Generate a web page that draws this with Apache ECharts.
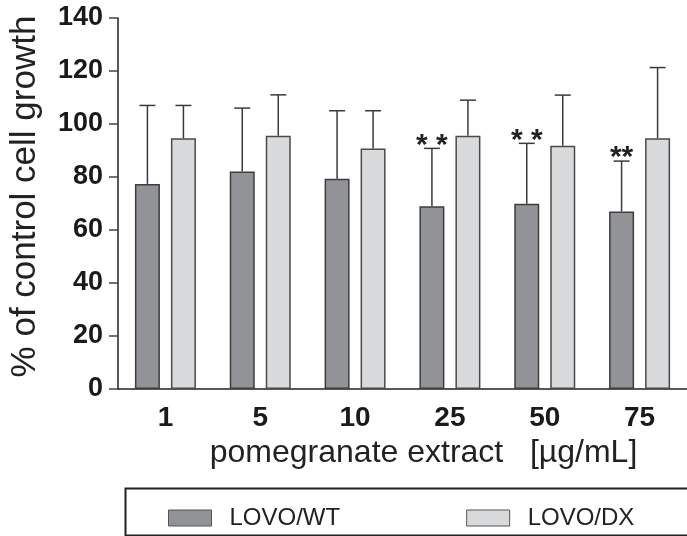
<!DOCTYPE html>
<html>
<head>
<meta charset="utf-8">
<script src="https://cdn.jsdelivr.net/npm/echarts@6/dist/echarts.min.js"></script>
<style>
  html, body { margin: 0; padding: 0; background: #fff; }
  #chart { width: 687px; height: 536px; }
</style>
</head>
<body>
<div id="chart"></div>
<script>
// values
const doses = ["1", "5", "10", "25", "50", "75"];
const wtMean = [77.4, 82.1, 79.3, 69.0, 69.9, 67.0];
const wtErr = [29.6, 23.9, 25.7, 21.8, 22.8, 19.0];
const dxMean = [94.6, 95.6, 90.8, 95.6, 91.8, 94.6];
const dxErr = [12.4, 15.4, 14.2, 13.4, 19.1, 26.7];
const wtStars = ["", "", "", "* *", "* *", "**"];
const yTicks = [0, 20, 40, 60, 80, 100, 120, 140];

const FONT = "Liberation Sans";
const BAR_W = 25;
const OFFSET = 18; // half of bar width + gap

function errorSeries(mean, err, stars, shift) {
  return {
    type: "custom",
    z: 1,
    data: mean.map((m, i) => [i, m, m + err[i], stars ? stars[i] : ""]),
    renderItem: function (params, api) {
      const base = api.coord([api.value(0), api.value(1)]);
      const top = api.coord([api.value(0), api.value(2)]);
      const x = base[0] + shift;
      const children = [
        { type: "line", shape: { x1: x, y1: base[1], x2: x, y2: top[1] },
          style: { stroke: "#3a3a3a", lineWidth: 1.5 } },
        { type: "line", shape: { x1: x - 8, y1: top[1], x2: x + 8, y2: top[1] },
          style: { stroke: "#3a3a3a", lineWidth: 1.5 } }
      ];
      const s = api.value(3);
      if (s) {
        children.push({
          type: "text",
          style: { text: s, x: x, y: top[1] + 12, align: "center", verticalAlign: "bottom",
                   font: "bold 30px '" + FONT + "'", fill: "#222" }
        });
      }
      return { type: "group", children: children };
    }
  };
}

const chart = echarts.init(document.getElementById("chart"));
chart.setOption({
  animation: false,
  textStyle: { fontFamily: FONT },
  grid: { left: 118, top: 18, width: 576, bottom: 147 },
  legend: {
    left: 163, top: 501,
    icon: "rect",
    itemWidth: 43, itemHeight: 16, itemGap: 126,
    itemStyle: { borderWidth: 1, borderColor: "#555" },
    textStyle: { fontSize: 24, color: "#222", fontFamily: FONT, padding: [0, 0, 0, 13] },
    data: ["LOVO/WT", "LOVO/DX"]
  },
  graphic: [{
    type: "rect", left: 123, top: 486,
    shape: { width: 600, height: 47 },
    style: { fill: "none", stroke: "#222", lineWidth: 2 }
  }],
  xAxis: {
    type: "category",
    data: doses,
    name: "pomegranate extract   [\u00b5g/mL]",
    nameLocation: "middle",
    nameGap: 37,
    nameTextStyle: { fontSize: 32, color: "#222", fontFamily: FONT, padding: [0, 0, 0, 42] },
    axisLine: { lineStyle: { color: "#222", width: 1.5 } },
    axisTick: { alignWithLabel: true, length: 8, lineStyle: { color: "#444", width: 1.5 } },
    axisLabel: { fontSize: 28, fontWeight: "bold", color: "#1a1a1a", margin: 15 },
    splitLine: { show: false }
  },
  yAxis: {
    type: "value",
    min: 0, max: 140, interval: 20,
    name: "% of control cell growth",
    nameLocation: "middle",
    nameGap: 75,
    nameTextStyle: { fontSize: 35, color: "#222", fontFamily: FONT, padding: [0, 0, 0, 14] },
    axisLine: { show: true, lineStyle: { color: "#222", width: 1.5 } },
    axisTick: { show: true, length: 9, lineStyle: { color: "#444", width: 1.5 } },
    axisLabel: { fontSize: 27, fontWeight: "bold", color: "#1a1a1a", margin: 15,
                 customValues: yTicks },
    splitLine: { show: false }
  },
  series: [
    {
      name: "LOVO/WT", type: "bar", data: wtMean, barWidth: BAR_W, barGap: "44%", z: 2,
      itemStyle: { color: "#929396", borderColor: "#3e3e3e", borderWidth: 1.5 }
    },
    {
      name: "LOVO/DX", type: "bar", data: dxMean, barWidth: BAR_W, z: 2,
      itemStyle: { color: "#d9dadb", borderColor: "#4a4a4a", borderWidth: 1.5 }
    },
    errorSeries(wtMean, wtErr, wtStars, -OFFSET),
    errorSeries(dxMean, dxErr, null, OFFSET)
  ]
});
</script>
</body>
</html>
